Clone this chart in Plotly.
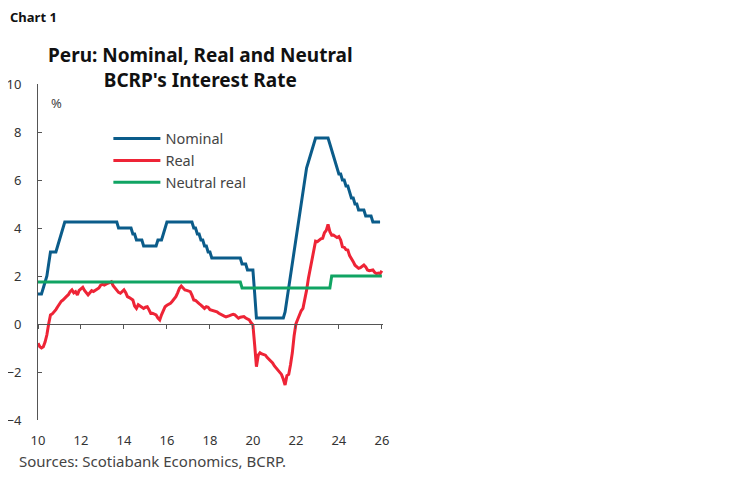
import pandas as pd
import plotly.graph_objects as go

# monthly observations, Jan-2010 .. Jan-2026
dates = pd.date_range('2010-01-01', periods=193, freq='MS')

nominal = ([1.25] * 3 + [1.5, 1.75, 2.0, 2.5] + [3.0] * 4 + [3.25, 3.5, 3.75, 4.0]
           + [4.25] * 30 + [4.0] * 8 + [3.75] * 2 + [3.5] * 4 + [3.25] * 8
           + [3.5] * 3 + [3.75, 4.0] + [4.25] * 15 + [4.0] * 2 + [3.75] * 2
           + [3.5] * 2 + [3.25] * 2 + [3.0] * 2 + [2.75] * 17 + [2.5] * 3
           + [2.25] * 4 + [1.25] + [0.25] * 16
           + [0.5, 1.0, 1.5, 2.0, 2.5, 3.0, 3.5, 4.0, 4.5, 5.0, 5.5, 6.0, 6.5, 6.75, 7.0, 7.25, 7.5]
           + [7.75] * 8 + [7.5, 7.25, 7.0, 6.75, 6.5, 6.25, 6.25, 6.0, 6.0, 5.75, 5.75, 5.5,
                           5.25, 5.25, 5.0, 5.0] + [4.75] * 4 + [4.5] * 4 + [4.25] * 5)

real = [-0.8, -0.95, -1.0, -0.95, -0.75, -0.45, 0.0, 0.38, 0.42, 0.5,
        0.6, 0.72, 0.85, 0.95, 1.0, 1.1, 1.15, 1.22, 1.35, 1.42,
        1.3, 1.35, 1.21, 1.4, 1.45, 1.53, 1.4, 1.3, 1.21, 1.3,
        1.39, 1.35, 1.4, 1.42, 1.5, 1.62, 1.65, 1.62, 1.67, 1.7,
        1.72, 1.76, 1.6, 1.49, 1.4, 1.32, 1.28, 1.35, 1.42, 1.3,
        1.14, 1.1, 1.05, 1.0, 0.75, 0.65, 0.8, 0.75, 0.7, 0.65,
        0.7, 0.72, 0.6, 0.44, 0.45, 0.4, 0.38, 0.25, 0.17, 0.38,
        0.55, 0.72, 0.78, 0.82, 0.86, 0.95, 1.05, 1.14, 1.3, 1.49,
        1.58, 1.5, 1.42, 1.4, 1.38, 1.35, 1.2, 1.0, 0.98, 0.93,
        0.85, 0.79, 0.7, 0.65, 0.72, 0.7, 0.6, 0.58, 0.55, 0.52,
        0.51, 0.45, 0.4, 0.38, 0.33, 0.3, 0.31, 0.35, 0.38, 0.4,
        0.38, 0.3, 0.24, 0.28, 0.3, 0.31, 0.25, 0.2, 0.17, 0.05,
        -0.04, -0.9, -1.78, -1.3, -1.2, -1.25, -1.28, -1.3, -1.4, -1.48,
        -1.55, -1.62, -1.75, -1.85, -1.95, -2.0, -2.1, -2.3, -2.54, -2.15,
        -2.1, -1.7, -1.2, -0.5, 0.0, 0.2, 0.38, 0.55, 0.65, 1.0,
        1.4, 1.9, 2.3, 2.7, 3.2, 3.45, 3.43, 3.5, 3.55, 3.57,
        3.8, 3.9, 4.15, 3.85, 3.7, 3.71, 3.65, 3.6, 3.64, 3.5,
        3.22, 3.2, 3.1, 3.08, 2.85, 2.75, 2.6, 2.45, 2.4, 2.32,
        2.35, 2.42, 2.46, 2.38, 2.25, 2.22, 2.25, 2.25, 2.15, 2.1,
        2.12, 2.1, 2.22]

neutral = [1.75] * 114 + [1.5] * 50 + [2.0] * 29

tick_years = ['2010', '2012', '2014', '2016', '2018', '2020', '2022', '2024', '2026']
tick_text = ['10', '12', '14', '16', '18', '20', '22', '24', '26']

font_name = 'Noto Sans'
axis_col = '#555555'

fig = go.Figure()
fig.add_trace(go.Scatter(x=dates, y=nominal, name='Nominal', mode='lines',
                         line=dict(color='#0B5C8A', width=3)))
fig.add_trace(go.Scatter(x=dates, y=real, name='Real', mode='lines',
                         line=dict(color='#EE2436', width=3)))
fig.add_trace(go.Scatter(x=dates, y=neutral, name='Neutral real', mode='lines',
                         line=dict(color='#10A463', width=3)))
# invisible helper so the zero-line axis gets drawn
fig.add_trace(go.Scatter(x=dates[:1], y=[0], xaxis='x2', mode='markers',
                         marker=dict(opacity=0), showlegend=False, hoverinfo='skip'))

x_range = ['2010-01-01', '2026-01-20']

# page body adds an 8px offset, so margins are trimmed by 8px on the left/top
fig.update_layout(
    width=748, height=483,
    margin=dict(l=30, r=373, t=76, b=71),
    paper_bgcolor='white', plot_bgcolor='white',
    font=dict(family=font_name, size=13, color='#333333'),
    showlegend=True,
    legend=dict(x=0.204, y=0.885, xanchor='left', yanchor='top',
                font=dict(size=14.5, color='#444444'), itemwidth=47,
                tracegroupgap=0, bgcolor='rgba(0,0,0,0)'),
    xaxis=dict(range=x_range, type='date', tickvals=tick_years, ticktext=tick_text,
               showline=False, ticks='', showgrid=False, zeroline=False,
               automargin=False, ticklabelstandoff=11,
               tickfont=dict(size=13, color='#333333')),
    xaxis2=dict(range=x_range, type='date', overlaying='x', anchor='free',
                position=4 / 14, side='bottom', tickvals=tick_years,
                showticklabels=False, showline=True, linecolor=axis_col, linewidth=1,
                ticks='outside', ticklen=4, tickcolor=axis_col, showgrid=False,
                zeroline=False, automargin=False),
    yaxis=dict(range=[-4, 10], dtick=2, showline=True, linecolor=axis_col, linewidth=1,
               ticks='inside', ticklen=4, tickcolor=axis_col, showgrid=False,
               zeroline=False, automargin=False, ticklabelstandoff=13,
               tickfont=dict(size=13, color='#333333')),
    annotations=[
        dict(text='<b>Chart 1</b>', xref='paper', yref='paper', x=-0.087, y=1.199,
             xanchor='left', yanchor='middle', showarrow=False,
             font=dict(size=13, color='#111111')),
        dict(text="<b>Peru: Nominal, Real and Neutral<br>BCRP's Interest Rate</b>",
             xref='paper', yref='paper', x=0.47, y=1.048, xanchor='center',
             yanchor='middle', showarrow=False,
             font=dict(size=19, color='#111111')),
        dict(text='%', xref='paper', yref='paper', x=0.055, y=0.943,
             xanchor='center', yanchor='middle', showarrow=False,
             font=dict(size=13, color='#444444')),
        dict(text='Sources: Scotiabank Economics, BCRP.', xref='paper', yref='paper',
             x=-0.062, y=-0.121, xanchor='left', yanchor='middle', showarrow=False,
             font=dict(size=15, color='#444444')),
    ],
)

fig.write_html('out.html')
